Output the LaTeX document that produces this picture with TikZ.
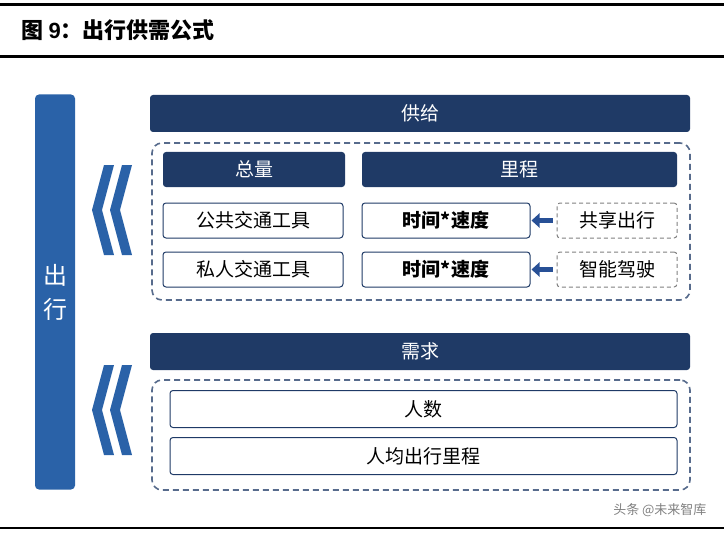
\documentclass[tikz,border=0pt]{standalone}
\usepackage{fontspec}
\setmainfont{Liberation Sans}
\newfontfamily\cjk{Noto Sans CJK SC}
\usetikzlibrary{arrows.meta,positioning}
\definecolor{navy}{RGB}{31,58,102}
\definecolor{barblue}{RGB}{42,98,168}
\definecolor{arrblue}{RGB}{40,80,150}

\begin{document}
\begin{tikzpicture}[x=1pt, y=-1pt,
    every node/.append style={align=center, font=\cjk\fontsize{19}{20}\selectfont},
    head/.style={fill=navy, rounded corners=3pt, text=white, inner sep=0pt},
    box/.style={draw=navy, line width=1pt, rounded corners=3pt, inner sep=0pt},
    dbox/.style={draw=navy!75, dash pattern=on 6pt off 4pt, line width=1.6pt, rounded corners=10pt, inner sep=0pt},
    sbox/.style={draw=gray, dash pattern=on 4pt off 3pt, line width=1pt, rounded corners=3pt, inner sep=0pt}]
   \useasboundingbox (0,0) rectangle (724,535);
   % title and rules
   \draw[line width=3pt] (0,5) -- (724,5);
   \draw[line width=3pt] (0,57) -- (724,57);
   \draw[line width=2pt] (0,528) -- (724,528);
   \node[anchor=west, font=\cjk\bfseries\fontsize{22}{24}\selectfont] (title) at (18,30) {图 {\rmfamily\bfseries 9}：出行供需公式};
   \node[anchor=east, text=gray, font=\cjk\fontsize{13}{14}\selectfont] (mark) at (710,510) {头条 @未来智库};
   % left bar
   \node[fill=barblue, rounded corners=4pt, minimum width=40pt, minimum height=395pt, inner sep=0pt, text=white,
     font=\cjk\fontsize{24}{34}\selectfont] (bar) at (55,292) {出\\行};
   % chevrons
   \foreach \y/\n in {210/ca, 410/cb} {
     \node (\n) at (108,\y) {};
     \foreach \dx in {0,18}
       \fill[barblue] ([xshift=\dx pt]\n.center) ++(-4,-45) -- ++(10,0) -- ++(-12,45) -- ++(12,45) -- ++(-10,0) -- ++(-12,-45) -- cycle;
   }
   % supply
   \node[head, minimum width=540pt, minimum height=37pt] (supply) at (420,113.5) {供给};
   \node[dbox, minimum width=538pt, minimum height=157pt] (sframe) at (421,221.5) {};
   \node[head, minimum width=182pt, minimum height=35pt] (total) at (254,169.5) {总量};
   \node[head, minimum width=315pt, minimum height=35pt] (mile) at (519.5,169.5) {里程};
   \node[box, minimum width=180pt, minimum height=35pt] (pub) at (253,220.5) {公共交通工具};
   \node[box, minimum width=180pt, minimum height=35pt] (pri) at (253,269.5) {私人交通工具};
   \node[box, minimum width=168pt, minimum height=35pt, font=\cjk\bfseries\fontsize{19}{20}\selectfont] (tv1) at (446,220.5) {时间*速度};
   \node[box, minimum width=168pt, minimum height=35pt, font=\cjk\bfseries\fontsize{19}{20}\selectfont] (tv2) at (446,269.5) {时间*速度};
   \node[sbox, minimum width=120pt, minimum height=35pt] (share) at (617,220.5) {共享出行};
   \node[sbox, minimum width=120pt, minimum height=35pt] (auto) at (617,269.5) {智能驾驶};
   \path[-{Triangle[length=8pt,width=14pt]}, arrblue, line width=5pt]
     ([xshift=-4pt]share.west) edge ([xshift=1pt]tv1.east)
     ([xshift=-4pt]auto.west) edge ([xshift=1pt]tv2.east);
   % demand
   \node[head, minimum width=540pt, minimum height=37pt] (demand) at (420,351.5) {需求};
   \node[dbox, minimum width=538pt, minimum height=110pt] (dframe) at (421,435) {};
   \node[box, minimum width=507pt, minimum height=37pt] (pop) at (423.5,409) {人数};
   \node[box, minimum width=507pt, minimum height=37pt] (dist) at (423.5,456) {人均出行里程};
\end{tikzpicture}
\end{document}
